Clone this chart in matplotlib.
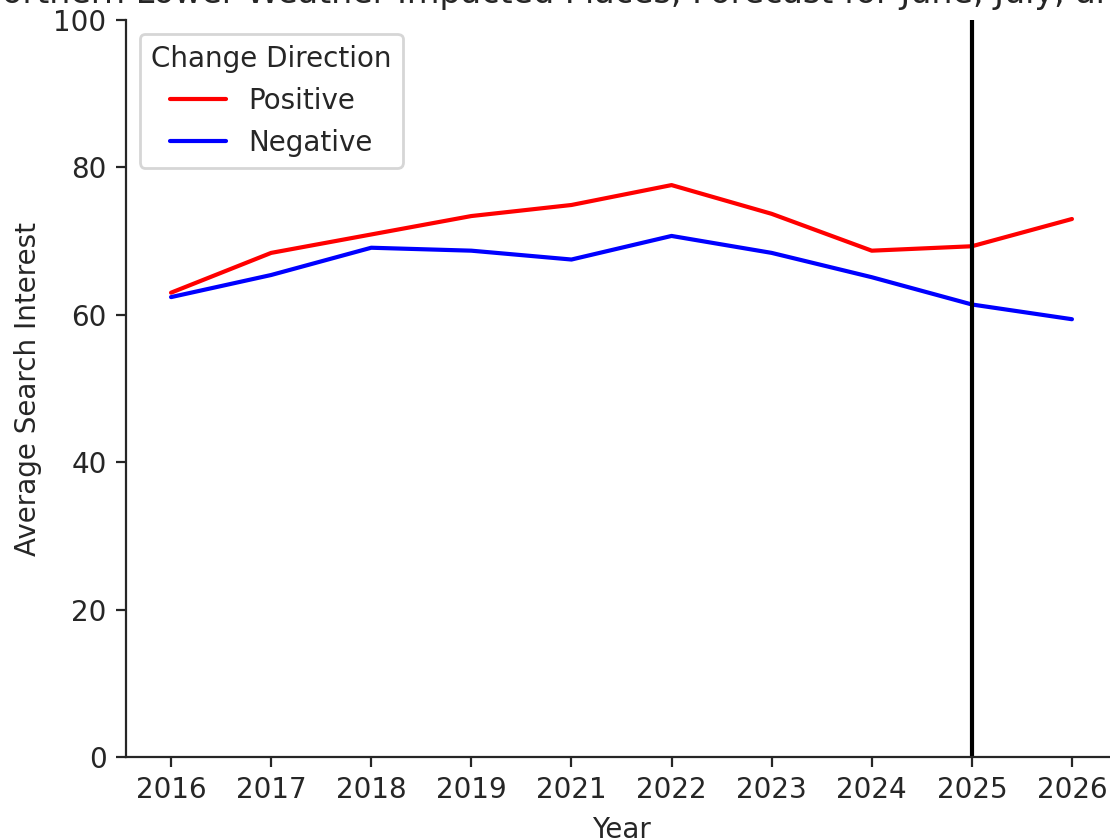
import matplotlib
matplotlib.use("Agg")
import matplotlib.pyplot as plt
import seaborn as sns

years = ["2016", "2017", "2018", "2019", "2021", "2022", "2023", "2024", "2025", "2026"]
positive = [63.0, 68.4, 70.9, 73.4, 74.9, 77.6, 73.7, 68.7, 69.3, 73.0]
negative = [62.4, 65.4, 69.1, 68.7, 67.5, 70.7, 68.4, 65.1, 61.4, 59.4]
series_names = ["Positive", "Negative"]
series_colors = ["red", "blue"]
forecast_year = "2025"
title = "Northern Lower Weather Impacted Places, Forecast for June, July, and August"

sns.set_style("ticks")
plt.rcParams['font.family'] = ['DejaVu Sans']

W, H, DPI = 1110, 839, 200
fig = plt.figure(figsize=(W / DPI, H / DPI), dpi=DPI)
left, right, top, bottom = 126, 1117, 20, 757
ax = fig.add_axes([left / W, (H - bottom) / H, (right - left) / W, (bottom - top) / H])

x = list(range(len(years)))
for name, vals, col in zip(series_names, [positive, negative], series_colors):
    ax.plot(x, vals, color=col, lw=1.5, label=name)

ax.axvline(years.index(forecast_year), color="black", lw=1.5)

ax.set_xticks(x)
ax.set_xticklabels(years)
ax.set_xlim(-0.45, len(years) - 1 + 0.45)
ax.set_ylim(0, 100)
ax.set_yticks([0, 20, 40, 60, 80, 100])
ax.set_xlabel("Year")
ax.set_ylabel("Average Search Interest")
ax.set_title(title)
ax.legend(title="Change Direction", loc="upper left")
sns.despine(ax=ax)

fig.savefig("out.png", dpi=DPI)
